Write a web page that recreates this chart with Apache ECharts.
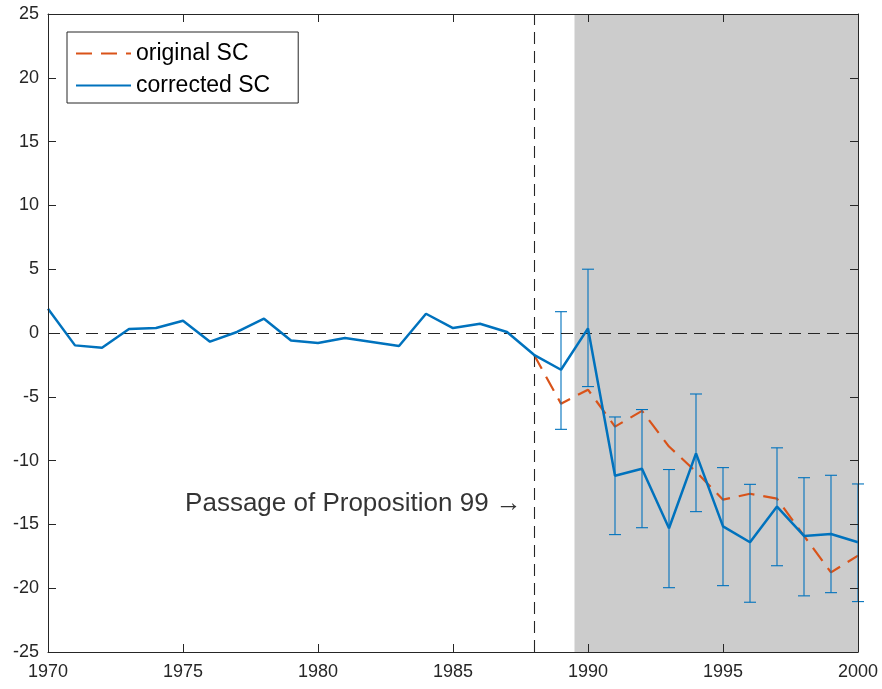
<!DOCTYPE html>
<html>
<head>
<meta charset="utf-8">
<script src="https://cdn.jsdelivr.net/npm/echarts@6/dist/echarts.min.js"></script>
<style>
html,body{margin:0;padding:0;background:#fff;}
#chart{width:882px;height:689px;}
</style>
</head>
<body>
<div id="chart"></div>
<script>
const years = [1970,1971,1972,1973,1974,1975,1976,1977,1978,1979,1980,1981,1982,1983,1984,1985,1986,1987,1988,1989,1990,1991,1992,1993,1994,1995,1996,1997,1998,1999,2000];
const correctedSC = [1.9,-0.97,-1.15,0.31,0.39,0.96,-0.68,0.08,1.12,-0.58,-0.78,-0.39,-0.70,-1.02,1.51,0.39,0.73,0.08,-1.71,-2.88,0.36,-11.19,-10.64,-15.30,-9.43,-15.15,-16.40,-13.60,-15.90,-15.75,-16.40];
const originalYears = [1988,1989,1990,1991,1992,1993,1994,1995,1996,1997,1998,1999,2000];
const originalSC = [-1.71,-5.54,-4.44,-7.34,-6.10,-8.90,-10.87,-13.06,-12.60,-12.98,-15.90,-18.76,-17.45];
const errYears = [1989,1990,1991,1992,1993,1994,1995,1996,1997,1998,1999,2000];
const errUpper = [1.67,5.0,-6.58,-6.0,-10.7,-4.78,-10.55,-11.86,-9.0,-11.34,-11.15,-11.83];
const errLower = [-7.55,-4.2,-15.8,-15.26,-19.96,-14.0,-19.8,-21.1,-18.24,-20.6,-20.35,-21.05];
const shadeStart = 1989.5, shadeEnd = 2000;
const treatYear = 1988;
const annotText = 'Passage of Proposition 99 \u2192';
const annotPos = [1987.55, -13.4];

const BLUE = '#0072BD', ORANGE = '#D95319', AX = '#262626';
const FONT = 'Liberation Sans, Arial, Helvetica, sans-serif';

const chart = echarts.init(document.getElementById('chart'), null, {renderer:'canvas'});

const axisCommon = {
  axisLine:{show:true, onZero:false, lineStyle:{color:AX, width:1}},
  axisTick:{show:true, inside:true, length:8, lineStyle:{color:AX, width:1}},
  splitLine:{show:false},
  z:10
};

const option = {
  animation:false,
  backgroundColor:'#fff',
  textStyle:{fontFamily:FONT},
  grid:{left:48, right:24, top:14, bottom:37, containLabel:false},
  legend:{
    data:['original SC','corrected SC'],
    orient:'vertical', left:67, top:32,
    itemWidth:55, itemHeight:14, itemGap:9,
    itemStyle:{opacity:0},
    backgroundColor:'#fff', borderColor:AX, borderWidth:1,
    padding:[10,28,6,8],
    textStyle:{fontSize:23, color:'#000', fontFamily:FONT}
  },
  xAxis:[
    Object.assign({type:'value', min:1970, max:2000, interval:5, position:'bottom',
      axisLabel:{color:AX, fontSize:18, margin:11, fontFamily:FONT, formatter:v=>String(v)}}, axisCommon),
    Object.assign({type:'value', min:1970, max:2000, interval:5, position:'top',
      axisLabel:{show:false}}, axisCommon)
  ],
  yAxis:[
    Object.assign({type:'value', min:-25, max:25, interval:5, position:'left',
      axisLabel:{color:AX, fontSize:18, margin:9, fontFamily:FONT}}, axisCommon),
    Object.assign({type:'value', min:-25, max:25, interval:5, position:'right',
      axisLabel:{show:false}}, axisCommon)
  ],
  series:[
    {
      name:'shade', type:'line', data:[], z:1, silent:true,
      markArea:{silent:true, itemStyle:{color:'#CCCCCC'}, data:[[{xAxis:shadeStart},{xAxis:shadeEnd}]]}
    },
    {
      name:'refs', type:'line', data:[], z:2, silent:true,
      markLine:{silent:true, symbol:'none', label:{show:false},
        lineStyle:{color:AX, width:1.1, type:[12,7]},
        data:[{yAxis:0},{xAxis:treatYear}]}
    },
    {
      name:'original SC', type:'line', z:3,
      data:originalYears.map((y,i)=>[y, originalSC[i]]),
      symbol:'none', showSymbol:false,
      lineStyle:{color:ORANGE, width:2.2, type:[16,9]},
      itemStyle:{color:ORANGE}
    },
    {
      name:'errbars', type:'custom', z:4, silent:true, clip:false,
      data:errYears.map((y,i)=>[y, errLower[i], errUpper[i]]),
      renderItem:function(params, api){
        const x = api.value(0);
        const pHi = api.coord([x, api.value(2)]);
        const pLo = api.coord([x, api.value(1)]);
        const w = 6;
        const st = {stroke:BLUE, lineWidth:1.1};
        return {type:'group', children:[
          {type:'line', shape:{x1:pHi[0], y1:pHi[1], x2:pLo[0], y2:pLo[1]}, style:st},
          {type:'line', shape:{x1:pHi[0]-w, y1:pHi[1], x2:pHi[0]+w, y2:pHi[1]}, style:st},
          {type:'line', shape:{x1:pLo[0]-w, y1:pLo[1], x2:pLo[0]+w, y2:pLo[1]}, style:st}
        ]};
      }
    },
    {
      name:'corrected SC', type:'line', z:5,
      data:years.map((y,i)=>[y, correctedSC[i]]),
      symbol:'none', showSymbol:false,
      lineStyle:{color:BLUE, width:2.5, type:'solid'},
      itemStyle:{color:BLUE}
    },
    {
      name:'annot', type:'scatter', z:6, silent:true,
      data:[annotPos], symbolSize:0,
      label:{show:true, position:'left', distance:0, formatter:annotText,
        fontSize:26, color:'#000', fontFamily:FONT}
    }
  ]
};
chart.setOption(option);
</script>
</body>
</html>
